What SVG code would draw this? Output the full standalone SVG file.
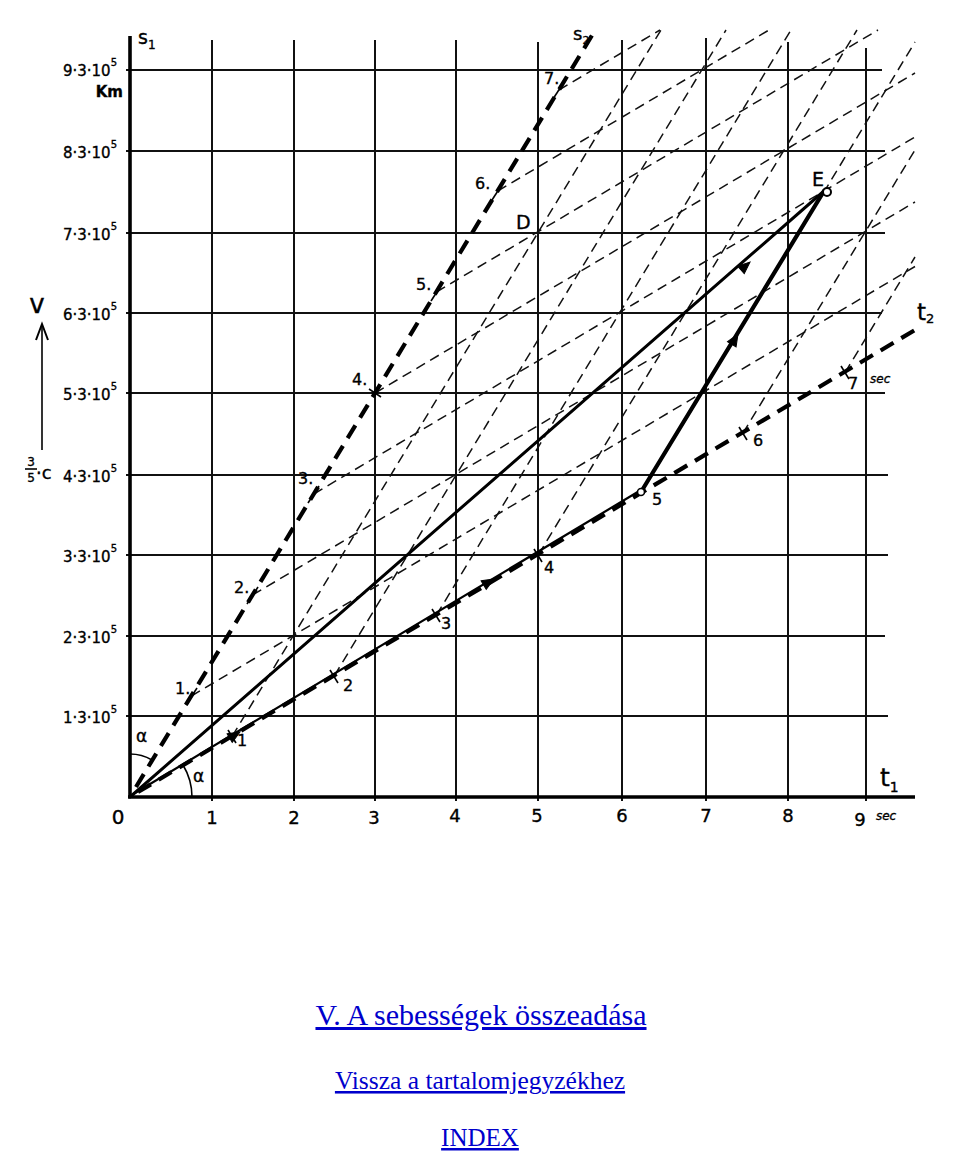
<svg xmlns="http://www.w3.org/2000/svg" width="960" height="1152" viewBox="0 0 960 1152">
<style>
.bg{fill:#fff}
.grid{stroke:#111;stroke-width:2;fill:none}
.axis{stroke:#000;stroke-width:3.6;fill:none}
.lat{stroke:#111;stroke-width:1.5;stroke-dasharray:10 6;fill:none}
.ax2{stroke:#000;stroke-width:4.2;stroke-dasharray:15 9;fill:none}
.sol{stroke:#000;fill:none;stroke-linecap:round}
.tick{stroke:#000;stroke-width:1.6;fill:none}
.hand{font-family:"DejaVu Sans",sans-serif;fill:#000;stroke:#000;stroke-width:0.35}
.sm{font-size:12px}
.sup{font-size:10px}
.link{font-family:"Liberation Serif","Times New Roman",serif;fill:#0000cc;text-decoration:underline;text-anchor:middle}
</style>
<defs>
<path id="ah" d="M-12,-5 L0,0 L-12,5 Z" fill="#000" stroke="#000" stroke-width="1"/>
</defs>
<rect class="bg" x="0" y="0" width="960" height="1152"/>

<g id="grid">
<line class="grid" x1="212" y1="40" x2="212" y2="801"/>
<line class="grid" x1="294" y1="40" x2="294" y2="801"/>
<line class="grid" x1="375" y1="40" x2="375" y2="801"/>
<line class="grid" x1="456" y1="40" x2="456" y2="801"/>
<line class="grid" x1="538" y1="42" x2="538" y2="801"/>
<line class="grid" x1="622" y1="40" x2="622" y2="801"/>
<line class="grid" x1="706" y1="38" x2="706" y2="801"/>
<line class="grid" x1="788" y1="42" x2="788" y2="801"/>
<line class="grid" x1="866" y1="48" x2="866" y2="801"/>
<line class="grid" x1="126" y1="70" x2="882" y2="70"/>
<line class="grid" x1="126" y1="151" x2="885" y2="151"/>
<line class="grid" x1="126" y1="233" x2="885" y2="233"/>
<line class="grid" x1="126" y1="313" x2="882" y2="313"/>
<line class="grid" x1="126" y1="393" x2="885" y2="393"/>
<line class="grid" x1="126" y1="475" x2="888" y2="475"/>
<line class="grid" x1="126" y1="555" x2="888" y2="555"/>
<line class="grid" x1="126" y1="636" x2="885" y2="636"/>
<line class="grid" x1="126" y1="716" x2="888" y2="716"/>
</g>

<g id="axes">
<line class="axis" x1="130" y1="36" x2="130" y2="798"/>
<line class="axis" x1="128" y1="797" x2="915" y2="797"/>
</g>

<g id="connectors">
<line class="lat" x1="191.3" y1="696" x2="915" y2="266.5"/>
<line class="lat" x1="252.6" y1="595" x2="915" y2="202"/>
<line class="lat" x1="313.8" y1="494" x2="915" y2="137"/>
<line class="lat" x1="375.1" y1="393" x2="915" y2="73"/>
<line class="lat" x1="436.4" y1="292" x2="878" y2="30"/>
<line class="lat" x1="497.7" y1="191" x2="769" y2="30"/>
<line class="lat" x1="558.9" y1="90" x2="660" y2="30"/>
<line class="lat" x1="232.1" y1="736.4" x2="661" y2="30"/>
<line class="lat" x1="334.3" y1="675.8" x2="726" y2="30"/>
<line class="lat" x1="436.4" y1="615.2" x2="791" y2="30"/>
<line class="lat" x1="538.5" y1="554.6" x2="857" y2="30"/>
<line class="lat" x1="640.6" y1="494" x2="915" y2="42"/>
<line class="lat" x1="742.8" y1="433.4" x2="915" y2="150"/>
<line class="lat" x1="844.9" y1="372.8" x2="915" y2="257"/>
<line class="ax2" x1="136" y1="787" x2="594" y2="32"/>
<line class="ax2" x1="138" y1="792" x2="915" y2="330"/>
<path class="tick" d="M192,797 A62,62 0 0 0 183,765"/>
<path class="tick" d="M130,754 A43,43 0 0 1 152,760"/>
<line class="sol" stroke-width="2.2" x1="130" y1="796" x2="641" y2="490"/>
<line class="sol" stroke-width="3" x1="130" y1="797" x2="824" y2="191"/>
<line class="sol" stroke-width="4.2" x1="641" y1="492" x2="824" y2="191"/>
<use href="#ah" transform="translate(750,262) rotate(-41.1)"/>
<use href="#ah" transform="translate(738,334) rotate(-58.8)"/>
<use href="#ah" transform="translate(240,732) rotate(-30.7)"/>
<use href="#ah" transform="translate(494,579) rotate(-30.7)"/>
<g class="tick">
<line x1="186" y1="705" x2="197" y2="688"/>
<line x1="247" y1="604" x2="258" y2="587"/>
<line x1="308" y1="503" x2="319" y2="486"/>
<line x1="369" y1="389" x2="381" y2="397"/>
<line x1="431" y1="301" x2="442" y2="284"/>
<line x1="492" y1="200" x2="503" y2="183"/>
<line x1="553" y1="99" x2="564" y2="82"/>
<line x1="228" y1="730" x2="236" y2="743"/>
<line x1="330" y1="670" x2="338" y2="683"/>
<line x1="432" y1="609" x2="440" y2="622"/>
<line x1="534" y1="549" x2="542" y2="562"/>
<line x1="739" y1="427" x2="747" y2="440"/>
<line x1="841" y1="366" x2="849" y2="379"/>
</g>
<circle cx="641" cy="492" r="3.5" fill="#fff" stroke="#000" stroke-width="1.6"/>
</g>

<g id="node-E">
<circle cx="827" cy="192" r="4" fill="#fff" stroke="#000" stroke-width="2"/>
<text class="hand" x="812" y="186" font-size="19">E</text>
</g>
<g id="node-D">
<text class="hand" x="516" y="229" font-size="19">D</text>
</g>

<g id="s-labels" class="hand" font-size="15" text-anchor="end">
<text x="117" y="76">9·3·10<tspan class="sup" dy="-10">5</tspan></text>
<text x="123" y="97" font-weight="bold">Km</text>
<text x="117" y="158">8·3·10<tspan class="sup" dy="-10">5</tspan></text>
<text x="117" y="240">7·3·10<tspan class="sup" dy="-10">5</tspan></text>
<text x="117" y="320">6·3·10<tspan class="sup" dy="-10">5</tspan></text>
<text x="117" y="400">5·3·10<tspan class="sup" dy="-10">5</tspan></text>
<text x="117" y="482">4·3·10<tspan class="sup" dy="-10">5</tspan></text>
<text x="117" y="562">3·3·10<tspan class="sup" dy="-10">5</tspan></text>
<text x="117" y="643">2·3·10<tspan class="sup" dy="-10">5</tspan></text>
<text x="117" y="723">1·3·10<tspan class="sup" dy="-10">5</tspan></text>
</g>

<g id="t-labels" class="hand" font-size="18" text-anchor="middle">
<text x="118" y="824" font-size="20">0</text>
<text x="212" y="824">1</text>
<text x="294" y="824">2</text>
<text x="374" y="824">3</text>
<text x="455" y="822">4</text>
<text x="537" y="822">5</text>
<text x="622" y="822">6</text>
<text x="706" y="822">7</text>
<text x="788" y="822">8</text>
<text x="860" y="826">9</text>
<text x="886" y="820" class="sm" font-style="italic">sec</text>
</g>

<g id="axis-names" class="hand">
<text x="138" y="44" font-size="19">s<tspan font-size="12" dy="5">1</tspan></text>
<text x="573" y="40" font-size="18">s<tspan font-size="11" dy="4">2</tspan></text>
<text x="880" y="786" font-size="25">t<tspan font-size="14" dy="6">1</tspan></text>
<text x="917" y="320" font-size="23">t<tspan font-size="13" dy="3">2</tspan></text>
</g>

<g id="velocity">
<text class="hand" x="37" y="313" font-size="26" text-anchor="middle">v</text>
<line class="tick" stroke-width="2" x1="42" y1="450" x2="42" y2="326"/>
<path d="M36,340 L42,324 L48,340" fill="none" stroke="#000" stroke-width="2"/>
<text class="hand" x="31" y="466" font-size="12" text-anchor="middle">3</text>
<line class="tick" x1="25" y1="469" x2="37" y2="469"/>
<text class="hand" x="31" y="482" font-size="12" text-anchor="middle">5</text>
<text class="hand" x="36" y="479" font-size="18">·c</text>
</g>

<g id="angles" class="hand" font-size="17">
<text x="136" y="742">α</text>
<text x="193" y="782">α</text>
</g>

<g id="s2-labels" class="hand" font-size="16">
<text x="175" y="694">1.</text>
<text x="234" y="593">2.</text>
<text x="298" y="484">3.</text>
<text x="352" y="385">4.</text>
<text x="416" y="290">5.</text>
<text x="475" y="189">6.</text>
<text x="544" y="84">7.</text>
</g>

<g id="t2-labels" class="hand" font-size="16">
<text x="237" y="746">1</text>
<text x="343" y="691">2</text>
<text x="441" y="629">3</text>
<text x="544" y="573">4</text>
<text x="652" y="505">5</text>
<text x="753" y="446">6</text>
<text x="848" y="389">7</text>
<text x="870" y="383" class="sm" font-style="italic">sec</text>
</g>

<g id="links">
<text class="link" x="481" y="1025" font-size="30">V. A sebességek összeadása</text>
<text class="link" x="480" y="1089" font-size="25.5">Vissza a tartalomjegyzékhez</text>
<text class="link" x="480" y="1146" font-size="25">INDEX</text>
</g>
</svg>
